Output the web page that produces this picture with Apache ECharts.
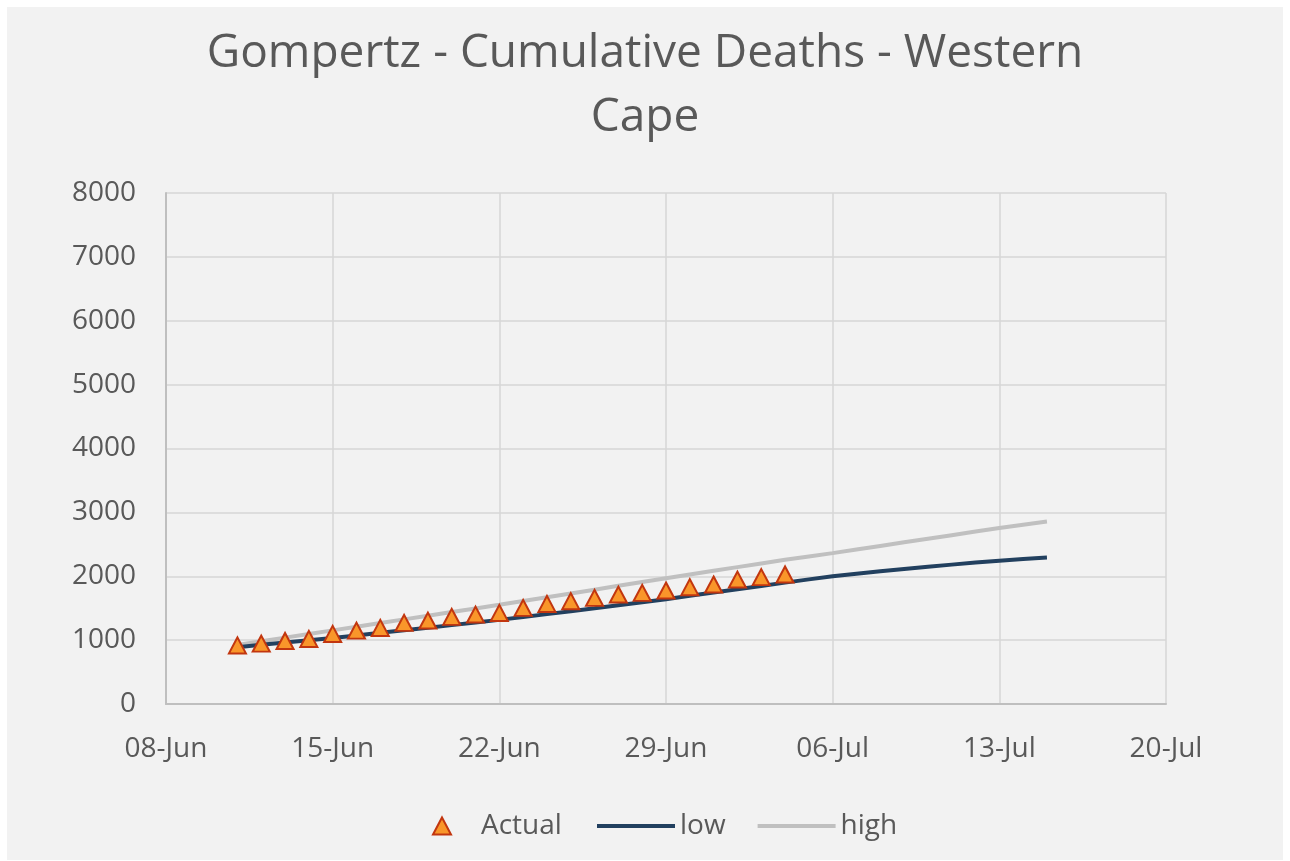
<!DOCTYPE html>
<html>
<head>
<meta charset="utf-8">
<title>Gompertz - Cumulative Deaths - Western Cape</title>
<script src="https://cdn.jsdelivr.net/npm/echarts@6/dist/echarts.min.js"></script>
<style>
  html, body { margin: 0; padding: 0; background: #ffffff; }
  #chart {
    position: absolute;
    left: 7px;
    top: 7px;
    width: 1276px;
    height: 853px;
    background: #f2f2f2;
  }
</style>
</head>
<body>
<div id="chart"></div>
<script>
// data
const startDate = "2020-06-08";

const actualDates = [
  "2020-06-11", "2020-06-12", "2020-06-13", "2020-06-14", "2020-06-15", "2020-06-16",
  "2020-06-17", "2020-06-18", "2020-06-19", "2020-06-20", "2020-06-21", "2020-06-22",
  "2020-06-23", "2020-06-24", "2020-06-25", "2020-06-26", "2020-06-27", "2020-06-28",
  "2020-06-29", "2020-06-30", "2020-07-01", "2020-07-02", "2020-07-03", "2020-07-04"
];
const actualDeaths = [
  917, 945, 987, 1019, 1097, 1149,
  1191, 1270, 1306, 1364, 1400, 1426,
  1505, 1567, 1610, 1661, 1713, 1740,
  1776, 1829, 1870, 1948, 1986, 2027
];

const modelDates = [
  "2020-06-11", "2020-06-12", "2020-06-13", "2020-06-14", "2020-06-15", "2020-06-16",
  "2020-06-17", "2020-06-18", "2020-06-19", "2020-06-20", "2020-06-21", "2020-06-22",
  "2020-06-23", "2020-06-24", "2020-06-25", "2020-06-26", "2020-06-27", "2020-06-28",
  "2020-06-29", "2020-06-30", "2020-07-01", "2020-07-02", "2020-07-03", "2020-07-04",
  "2020-07-05", "2020-07-06", "2020-07-07", "2020-07-08", "2020-07-09", "2020-07-10",
  "2020-07-11", "2020-07-12", "2020-07-13", "2020-07-14", "2020-07-15"
];
const lowDeaths = [
  890, 926, 962, 998, 1034, 1074,
  1114, 1154, 1194, 1235, 1276, 1317,
  1362, 1407, 1453, 1499, 1546, 1593,
  1641, 1694, 1746, 1798, 1849, 1900,
  1951, 2000, 2040, 2077, 2113, 2148,
  2182, 2214, 2244, 2270, 2293
];
const highDeaths = [
  925, 982, 1039, 1096, 1153, 1210,
  1268, 1325, 1382, 1439, 1496, 1553,
  1612, 1671, 1730, 1790, 1850, 1910,
  1970, 2028, 2086, 2143, 2200, 2257,
  2310, 2362, 2419, 2475, 2531, 2587,
  2643, 2699, 2754, 2806, 2857
];

const xTickLabels = ["08-Jun", "15-Jun", "22-Jun", "29-Jun", "06-Jul", "13-Jul", "20-Jul"];

const lowColor = "#22405f";
const highColor = "#c0c0c0";

// days counted from 08-Jun so the weekly ticks land on whole multiples of 7
function dayNo(d) {
  return (Date.parse(d) - Date.parse(startDate)) / 86400000;
}
function pairs(dates, vals) {
  let out = [];
  for (let i = 0; i < dates.length; i++) {
    out.push([dayNo(dates[i]), vals[i]]);
  }
  return out;
}

const font = "'Open Sans', 'Noto Sans', sans-serif";
const textColor = "#595959";

let myChart = echarts.init(document.getElementById("chart"));
let option = {
  animation: false,
  backgroundColor: "#f2f2f2",
  textStyle: { fontFamily: font },
  title: {
    text: "Gompertz - Cumulative Deaths - Western\nCape",
    left: "center",
    top: 15,
    padding: 0,
    textStyle: {
      fontFamily: font,
      fontSize: 46,
      fontWeight: "normal",
      color: textColor,
      lineHeight: 64
    }
  },
  legend: [
    {
      // marker legend
      left: 420,
      top: 800,
      itemWidth: 18,
      itemHeight: 17,
      textStyle: {
        fontFamily: font,
        fontSize: 28,
        color: textColor,
        padding: [0, 0, 0, 25]
      },
      data: [
        {
          name: "Actual",
          icon: "triangle",
          itemStyle: { color: "#f9962a", borderColor: "#c2360f", borderWidth: 2 }
        }
      ]
    },
    {
      // line legend
      left: 585,
      top: 800,
      itemWidth: 78,
      itemHeight: 4,
      itemGap: 32,
      textStyle: { fontFamily: font, fontSize: 28, color: textColor },
      data: [
        { name: "low", icon: "rect", itemStyle: { color: lowColor, borderWidth: 0 } },
        { name: "high", icon: "rect", itemStyle: { color: highColor, borderWidth: 0 } }
      ]
    }
  ],
  grid: {
    left: 159,
    top: 186,
    right: 117,
    bottom: 156,
    containLabel: false
  },
  xAxis: {
    type: "value",
    min: 0,
    max: 42,
    interval: 7,
    axisLine: { show: true, lineStyle: { color: "#bfbfbf", width: 2 } },
    axisTick: { show: false },
    axisLabel: {
      margin: 31,
      fontFamily: font,
      fontSize: 28,
      color: textColor,
      formatter: function(v) {
        return xTickLabels[Math.round(v / 7)];
      }
    },
    splitLine: { show: true, lineStyle: { color: "#d6d6d6", width: 1.5 } }
  },
  yAxis: {
    type: "value",
    min: 0,
    max: 8000,
    interval: 1000,
    axisLine: { show: true, lineStyle: { color: "#bfbfbf", width: 2 } },
    axisTick: { show: false },
    axisLabel: {
      margin: 30,
      fontFamily: font,
      fontSize: 28,
      color: textColor,
      formatter: function(v) {
        return String(v);
      }
    },
    splitLine: { show: true, lineStyle: { color: "#d6d6d6", width: 1.5 } }
  },
  series: [
    {
      name: "Actual",
      type: "scatter",
      symbol: "triangle",
      symbolSize: [17, 16],
      z: 5,
      itemStyle: {
        color: "#f9962a",
        borderColor: "#c2360f",
        borderWidth: 2,
        opacity: 1
      },
      data: pairs(actualDates, actualDeaths)
    },
    {
      name: "low",
      type: "line",
      symbol: "none",
      z: 3,
      lineStyle: { color: lowColor, width: 4 },
      itemStyle: { color: lowColor },
      data: pairs(modelDates, lowDeaths)
    },
    {
      name: "high",
      type: "line",
      symbol: "none",
      z: 2,
      lineStyle: { color: highColor, width: 4 },
      itemStyle: { color: highColor },
      data: pairs(modelDates, highDeaths)
    }
  ]
};
myChart.setOption(option);
window.addEventListener("resize", () => {
  myChart.resize();
});
</script>
</body>
</html>
